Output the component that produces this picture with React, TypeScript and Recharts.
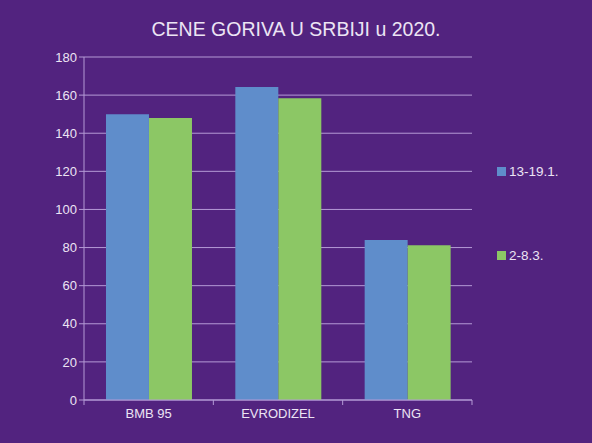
import React from "react";
import { BarChart, Bar, XAxis, YAxis, CartesianGrid } from "recharts";

const categories = ["BMB 95", "EVRODIZEL", "TNG"];
const januaryPrices = [150, 164.2, 84];
const marchPrices = [148, 158.3, 81.2];
const seriesNames = ["13-19.1.", "2-8.3."];
const yTicks = [0, 20, 40, 60, 80, 100, 120, 140, 160, 180];

const BG = "#52237f";
const GRID = "#b49ad6";
const TEXT = "#ece4f4";
const BLUE = "#5f8dcb";
const GREEN = "#8cc765";
const FONT = "'Liberation Sans', Arial, sans-serif";

const data = categories.map((name, i) => ({
  name,
  jan: januaryPrices[i],
  mar: marchPrices[i],
}));

// category label plus tick marks on the band edges
const CategoryTick = ({ x, y, payload, index }: any) => {
  const off = payload.offset || 0;
  return (
    <g>
      <line x1={x - off} x2={x - off} y1={y - 8} y2={y - 3} stroke={GRID} />
      {index === categories.length - 1 && (
        <line x1={x + off} x2={x + off} y1={y - 8} y2={y - 3} stroke={GRID} />
      )}
      <text x={x} y={y + 10} textAnchor="middle" fill={TEXT} fontSize={13} fontFamily={FONT}>
        {payload.value}
      </text>
    </g>
  );
};

export default function App() {
  const legendColors = [BLUE, GREEN];
  return (
    <div
      style={{
        position: "absolute",
        left: 0,
        top: 0,
        width: 592,
        height: 443,
        background: BG,
        fontFamily: FONT,
      }}
    >
      <div
        style={{
          position: "absolute",
          top: 18,
          width: 592,
          textAlign: "center",
          color: TEXT,
          fontSize: 19.5,
        }}
      >
        CENE GORIVA U SRBIJI u 2020.
      </div>
      <BarChart
        width={592}
        height={443}
        data={data}
        margin={{ top: 57, right: 120, bottom: 0, left: 0 }}
        barGap={0}
        barCategoryGap="17%"
      >
        <CartesianGrid stroke={GRID} vertical={false} />
        <XAxis
          dataKey="name"
          stroke={GRID}
          tickLine={false}
          height={43}
          tick={<CategoryTick />}
          interval={0}
        />
        <YAxis
          domain={[0, 180]}
          ticks={yTicks}
          width={84}
          stroke={GRID}
          tickSize={5}
          tick={{ fill: TEXT, fontSize: 13, fontFamily: FONT }}
        />
        <YAxis yAxisId="right" orientation="right" width={0} stroke={GRID} tick={false} />
        <Bar dataKey="jan" name={seriesNames[0]} fill={BLUE} isAnimationActive={false} />
        <Bar dataKey="mar" name={seriesNames[1]} fill={GREEN} isAnimationActive={false} />
      </BarChart>
      {seriesNames.map((s, i) => (
        <div
          key={s}
          style={{
            position: "absolute",
            left: 497,
            top: 164 + i * 84,
            display: "flex",
            alignItems: "center",
            color: TEXT,
            fontSize: 13.5,
          }}
        >
          <span
            style={{
              width: 9,
              height: 9,
              background: legendColors[i],
              marginRight: 3,
              display: "inline-block",
            }}
          />
          {s}
        </div>
      ))}
    </div>
  );
}
